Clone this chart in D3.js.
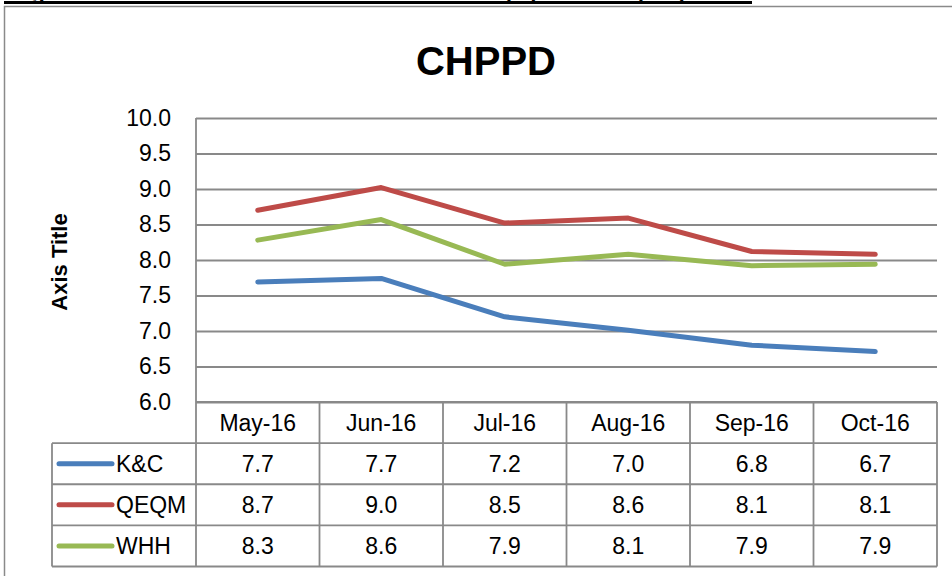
<!DOCTYPE html>
<html>
<head>
<meta charset="utf-8">
<script src="https://cdn.jsdelivr.net/npm/d3@7"></script>
<style>
  body { margin: 0; background: #fff; }
  text { font-family: "Liberation Sans", Arial, sans-serif; fill: #000; }
</style>
</head>
<body>
<div id="figure"></div>
<script>
// data
var months = ["May-16", "Jun-16", "Jul-16", "Aug-16", "Sep-16", "Oct-16"];
var seriesNames = ["K&C", "QEQM", "WHH"];
var kc   = [7.69, 7.74, 7.20, 7.01, 6.80, 6.71];
var qeqm = [8.70, 9.02, 8.52, 8.59, 8.12, 8.08];
var whh  = [8.28, 8.57, 7.94, 8.08, 7.92, 7.94];
var yTicks = [6.0, 6.5, 7.0, 7.5, 8.0, 8.5, 9.0, 9.5, 10.0];

var colors = ["#4A7EBB", "#BE4B48", "#98B954"];
var series = [kc, qeqm, whh];

var W = 952, H = 576;
var plot = {left: 196, right: 937, top: 118, bottom: 402};
var tableBottom = 566.5, legendLeft = 52;
var gridColor = "#898989";

var svg = d3.select("#figure").append("svg")
    .attr("width", W).attr("height", H);

// caption above the chart (cut off at the top of the picture)
svg.append("text")
    .attr("x", 4).attr("y", -1)
    .attr("textLength", 748)
    .style("font-size", "22px").style("font-weight", "bold")
    .text("Figure 1 Care Hours Per Patient Day (CHPPD) by site");
svg.append("line")
    .attr("x1", 4).attr("x2", 752).attr("y1", 2.5).attr("y2", 2.5)
    .attr("stroke", "#000").attr("stroke-width", 3);

// chart area border (runs off the right and bottom)
svg.append("rect")
    .attr("x", 4.5).attr("y", 6.5)
    .attr("width", 1000).attr("height", 700)
    .attr("fill", "none").attr("stroke", "#8a8a8a").attr("stroke-width", 1.5);

svg.append("text")
    .attr("x", 486).attr("y", 75)
    .attr("text-anchor", "middle")
    .style("font-size", "40px").style("font-weight", "bold")
    .text("CHPPD");

var x = d3.scaleBand().domain(months).range([plot.left, plot.right]);
var y = d3.scaleLinear().domain([6, 10]).range([plot.bottom, plot.top]);

// gridlines
svg.append("g")
    .attr("transform", "translate(" + plot.left + ",0)")
    .call(d3.axisLeft(y).tickValues(yTicks).tickSize(-(plot.right - plot.left)).tickFormat(""))
    .call(function(g) {
      g.select(".domain").remove();
      g.selectAll("line").attr("stroke", gridColor).attr("stroke-width", 1.8);
    });

// y tick labels
svg.append("g")
    .attr("transform", "translate(" + 171 + ",0)")
    .call(d3.axisLeft(y).tickValues(yTicks).tickSize(0).tickPadding(0).tickFormat(d3.format(".1f")))
    .call(function(g) {
      g.select(".domain").remove();
      g.selectAll("text").style("font-size", "23px").attr("fill", "#000")
        .style("font-family", '"Liberation Sans", Arial, sans-serif');
    });

svg.append("text")
    .attr("transform", "translate(67,262) rotate(-90)")
    .attr("text-anchor", "middle")
    .style("font-size", "22px").style("font-weight", "bold")
    .text("Axis Title");

// lines
var line = d3.line()
    .x(function(d, i) { return x(months[i]) + x.bandwidth() / 2; })
    .y(function(d) { return y(d); });

svg.selectAll(".series").data(series).enter().append("path")
    .attr("class", "series")
    .attr("d", line)
    .attr("fill", "none")
    .attr("stroke", function(d, i) { return colors[i]; })
    .attr("stroke-width", 5)
    .attr("stroke-linecap", "round")
    .attr("stroke-linejoin", "round");

// data table
var rows = d3.scaleBand().domain(["header"].concat(seriesNames)).range([plot.bottom, tableBottom]);
var tbl = svg.append("g").attr("stroke", gridColor).attr("stroke-width", 1.8);

var cols = x.domain().map(function(m) { return x(m); }).concat([plot.right]);
tbl.selectAll(".vcol").data(cols).enter().append("line")
    .attr("x1", function(d) { return d; }).attr("x2", function(d) { return d; })
    .attr("y1", function(d, i) { return i === 0 ? plot.top : plot.bottom; })
    .attr("y2", tableBottom);
tbl.append("line")
    .attr("x1", legendLeft).attr("x2", legendLeft)
    .attr("y1", rows("K&C")).attr("y2", tableBottom);

var hRows = rows.domain().map(function(r) { return rows(r) + rows.bandwidth(); });
tbl.selectAll(".hrow").data(hRows).enter().append("line")
    .attr("x1", legendLeft).attr("x2", plot.right)
    .attr("y1", function(d) { return d; }).attr("y2", function(d) { return d; });
tbl.append("line")
    .attr("x1", plot.left).attr("x2", plot.right)
    .attr("y1", plot.bottom).attr("y2", plot.bottom);

svg.selectAll(".hdr").data(months).enter().append("text")
    .attr("x", function(d) { return x(d) + x.bandwidth() / 2; })
    .attr("y", rows("header") + rows.bandwidth() / 2 + 8)
    .attr("text-anchor", "middle")
    .style("font-size", "23px")
    .text(function(d) { return d; });

var fmt = d3.format(".1f");
seriesNames.forEach(function(name, si) {
  var cy = rows(name) + rows.bandwidth() / 2;
  svg.append("line")
      .attr("x1", 59).attr("x2", 112).attr("y1", cy).attr("y2", cy)
      .attr("stroke", colors[si]).attr("stroke-width", 5).attr("stroke-linecap", "round");
  svg.append("text")
      .attr("x", 116).attr("y", cy + 8)
      .style("font-size", "23px")
      .text(name);
  svg.selectAll(".v" + si).data(series[si]).enter().append("text")
      .attr("x", function(d, i) { return x(months[i]) + x.bandwidth() / 2; })
      .attr("y", cy + 8)
      .attr("text-anchor", "middle")
      .style("font-size", "23px")
      .text(function(d) { return fmt(d); });
});
</script>
</body>
</html>
